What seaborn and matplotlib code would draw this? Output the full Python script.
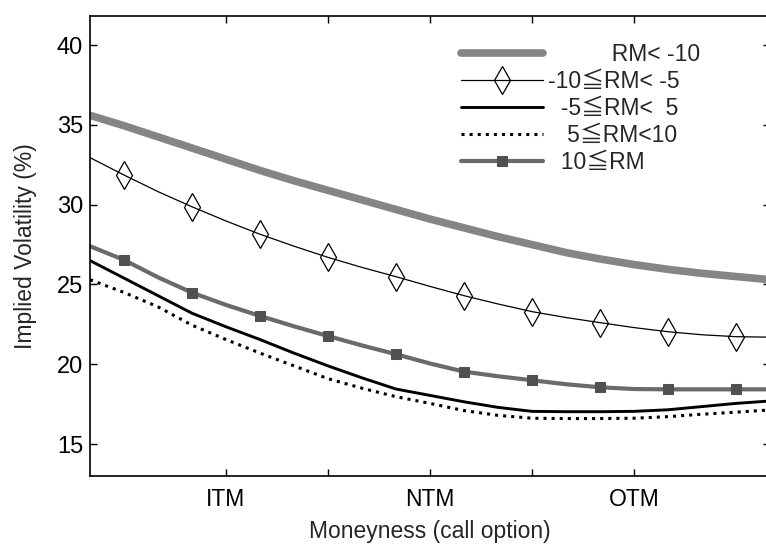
import matplotlib
matplotlib.use("Agg")
import matplotlib.pyplot as plt
import seaborn as sns

# Moneyness axis position (marker grid units)
moneyness = [0.5, 1.0, 1.5, 2.0, 2.5, 3.0, 3.5, 4.0, 4.5, 5.0, 5.5,
             6.0, 6.5, 7.0, 7.5, 8.0, 8.5, 9.0, 9.5, 10.0, 10.5]

iv_rm_lt_m10 = [35.6, 34.95, 34.25, 33.55, 32.85, 32.15, 31.5, 30.9, 30.3, 29.7, 29.1,
                28.55, 28.0, 27.5, 27.0, 26.6, 26.25, 25.95, 25.7, 25.5, 25.3]
iv_m10_m5 = [32.95, 31.86, 30.82, 29.87, 28.98, 28.15, 27.40, 26.70, 26.07, 25.49, 24.88,
             24.30, 23.78, 23.30, 22.93, 22.61, 22.30, 22.04, 21.85, 21.73, 21.70]
iv_m5_p5 = [26.5, 25.4, 24.3, 23.2, 22.35, 21.55, 20.7, 19.9, 19.15, 18.45, 18.05,
            17.65, 17.3, 17.05, 17.03, 17.03, 17.05, 17.15, 17.35, 17.55, 17.7]
iv_p5_p10 = [25.3, 24.5, 23.6, 22.45, 21.55, 20.7, 19.9, 19.1, 18.5, 17.97, 17.55,
             17.1, 16.8, 16.62, 16.6, 16.6, 16.62, 16.72, 16.87, 17.0, 17.14]
iv_ge_p10 = [27.4, 26.54, 25.45, 24.49, 23.72, 23.03, 22.38, 21.77, 21.18, 20.63, 20.05,
             19.54, 19.25, 19.00, 18.75, 18.56, 18.45, 18.43, 18.43, 18.43, 18.43]

labels = ["          RM< -10",
          "-10≦RM< -5",
          "  -5≦RM<  5",
          "   5≦RM<10",
          "  10≦RM"]

tick_pos = [2.5, 4.0, 5.5, 7.0, 8.5]
tick_labels = ["ITM", "", "NTM", "", "OTM"]
y_ticks = [15, 20, 25, 30, 35, 40]

sns.set_theme(style="white")
plt.rcParams['font.family'] = ['Liberation Sans', 'Noto Sans CJK TC', 'DejaVu Sans']

fig = plt.figure(figsize=(7.66, 5.44), dpi=100)
ax = fig.add_axes([90/766, 68/544, 680/766, 460.4/544])

series = [iv_rm_lt_m10, iv_m10_m5, iv_m5_p5, iv_p5_p10, iv_ge_p10]
styles = [
    dict(color="#858585", lw=5.5, ls="-"),
    dict(color="black", lw=0.9, ls="-", marker="d", markersize=14,
         markerfacecolor="none", markeredgecolor="black", markeredgewidth=0.9,
         markevery=slice(1, None, 2)),
    dict(color="black", lw=2.1, ls="-"),
    dict(color="black", lw=2.2, ls=":"),
    dict(color="#6a6a6a", lw=3.0, ls="-", marker="s", markersize=7.5,
         markerfacecolor="#505050", markeredgecolor="#505050",
         markevery=slice(1, None, 2)),
]
for vals, lab, st in zip(series, labels, styles):
    st = dict(st)
    color = st.pop("color")
    lw = st.pop("lw")
    ls = st.pop("ls")
    sns.lineplot(x=moneyness, y=vals, ax=ax, color=color, linewidth=lw,
                 linestyle=ls, label=lab, estimator=None, **st)

ax.set_xlim(0.5, 10.5)
ax.set_ylim(13.0, 41.85)
ax.set_xticks(tick_pos)
ax.set_xticklabels(tick_labels)
ax.set_yticks(y_ticks)
ax.tick_params(direction="in", length=5, width=1, top=True, right=True,
               colors="black", bottom=True, left=True)
ax.tick_params(axis="y", labelsize=17, pad=5)
ax.tick_params(axis="x", labelsize=16.5, pad=9)
for sp in ax.spines.values():
    sp.set_color("black")
    sp.set_linewidth(1.2)
ax.set_xlabel("Moneyness (call option)", fontsize=16.5, labelpad=6)
ax.set_ylabel("Implied Volatility (%)", fontsize=16.5, labelpad=14)
ax.grid(False)

leg = ax.legend(loc="upper left", bbox_to_anchor=(0.546, 0.94),
                frameon=False, fontsize=16.5, handlelength=3.55,
                handletextpad=0.25, labelspacing=0.17, borderpad=0,
                borderaxespad=0, numpoints=1)

fig.savefig("out.png", dpi=100, facecolor="white")
